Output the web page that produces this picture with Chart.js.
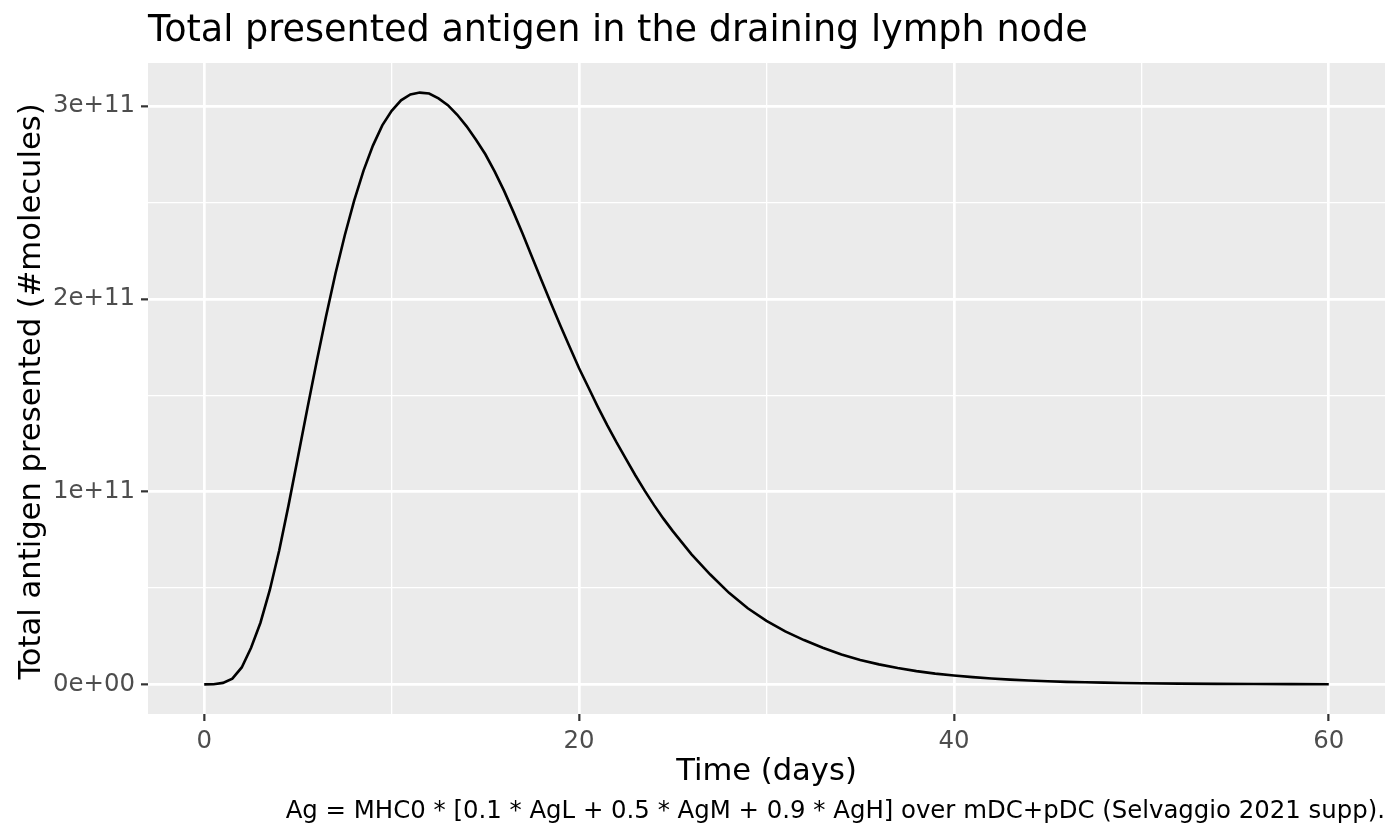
<!DOCTYPE html>
<html>
<head>
<meta charset="utf-8">
<script src="https://cdn.jsdelivr.net/npm/chart.js@4"></script>
<style>
  body { margin: 0; background: #fff; }
  #wrap { width: 1400px; height: 840px; }
</style>
</head>
<body>
<div id="wrap"><canvas id="agChart" width="1400" height="840"></canvas></div>
<script>
// time (days) and total presented antigen, in units of 1e11 molecules
const days = [
  0, 0.5, 1, 1.5, 2, 2.5, 3, 3.5, 4, 4.5, 5, 5.5, 6, 6.5, 7, 7.5, 8, 8.5, 9, 9.5,
  10, 10.5, 11, 11.5, 12, 12.5, 13, 13.5, 14, 14.5, 15, 15.5, 16, 16.5, 17, 17.5,
  18, 18.5, 19, 19.5, 20, 20.5, 21, 21.5, 22, 22.5, 23, 23.5, 24, 24.5, 25,
  26, 27, 28, 29, 30, 31, 32, 33, 34, 35, 36, 37, 38, 39, 40,
  41, 42, 43, 44, 45, 46, 47, 48, 49, 50, 52, 54, 56, 58, 60
];
const antigen = [
  0, 0.001, 0.008, 0.03, 0.088, 0.19, 0.32, 0.49, 0.695, 0.93, 1.18, 1.43, 1.675, 1.91, 2.13, 2.33, 2.51, 2.665, 2.795, 2.9,
  2.975, 3.03, 3.06, 3.07, 3.065, 3.04, 3.005, 2.955, 2.895, 2.825, 2.75, 2.66, 2.56, 2.45, 2.335, 2.215,
  2.095, 1.977, 1.862, 1.75, 1.64, 1.54, 1.44, 1.345, 1.255, 1.17, 1.085, 1.005, 0.93, 0.86, 0.795,
  0.675, 0.57, 0.475, 0.395, 0.33, 0.275, 0.23, 0.19, 0.155, 0.127, 0.104, 0.085, 0.069, 0.056, 0.046,
  0.038, 0.031, 0.025, 0.020, 0.016, 0.013, 0.011, 0.009, 0.007, 0.006, 0.004, 0.003, 0.002, 0.0015, 0.001
];
const UNIT = 1e11;

const xTicks = [0, 10, 20, 30, 40, 50, 60];
const xLabels = ['0', '', '20', '', '40', '', '60'];
const yTicks = [0, 0.5, 1, 1.5, 2, 2.5, 3];
const yLabels = ['0e+00', '', '1e+11', '', '2e+11', '', '3e+11'];

const titleText = 'Total presented antigen in the draining lymph node';
const xTitle = 'Time (days)';
const yTitle = 'Total antigen presented (#molecules)';
const captionText = 'Ag = MHC0 * [0.1 * AgL + 0.5 * AgM + 0.9 * AgH] over mDC+pDC (Selvaggio 2021 supp).';

const FONT = '"DejaVu Sans", Verdana, sans-serif';

// ggplot-like expansion of 5% on each side
const xMin = Math.min(...days), xMax = Math.max(...days);
const yMin = Math.min(...antigen), yMax = Math.max(...antigen);
const xPad = (xMax - xMin) * 0.05, yPad = (yMax - yMin) * 0.05;

const isMajor = (list, v) => list.indexOf(v) % 2 === 0;

const panelBg = {
  id: 'panelBg',
  beforeDraw(chart) {
    const { ctx, chartArea: a } = chart;
    ctx.save();
    ctx.fillStyle = '#EBEBEB';
    ctx.fillRect(a.left, a.top, a.right - a.left, a.bottom - a.top);
    ctx.restore();
  }
};

const texts = {
  id: 'texts',
  afterDraw(chart) {
    const { ctx, chartArea: a } = chart;
    ctx.save();
    ctx.fillStyle = '#000';
    ctx.textBaseline = 'alphabetic';

    ctx.font = '36.6px ' + FONT;
    ctx.textAlign = 'left';
    ctx.fillText(titleText, a.left, 41);

    ctx.font = '30.6px ' + FONT;
    ctx.textAlign = 'center';
    ctx.fillText(xTitle, (a.left + a.right) / 2, 780);

    ctx.save();
    ctx.translate(40, (a.top + a.bottom) / 2 + 3);
    ctx.rotate(-Math.PI / 2);
    ctx.fillText(yTitle, 0, 0);
    ctx.restore();

    ctx.font = '24.4px ' + FONT;
    ctx.textAlign = 'right';
    ctx.fillText(captionText, a.right, 818);
    ctx.restore();
  }
};

new Chart(document.getElementById('agChart'), {
  type: 'line',
  data: {
    datasets: [{
      data: days.map((d, i) => ({ x: d, y: antigen[i] * UNIT })),
      borderColor: '#000',
      borderWidth: 2.6,
      pointRadius: 0,
      tension: 0,
      fill: false
    }]
  },
  options: {
    responsive: false,
    animation: false,
    devicePixelRatio: 1,
    layout: { padding: { left: 0, right: 15, top: 63, bottom: 0 } },
    plugins: {
      legend: { display: false },
      tooltip: { enabled: false }
    },
    scales: {
      x: {
        type: 'linear',
        min: xMin - xPad,
        max: xMax + xPad,
        afterFit: s => { s.height = 126; },
        afterBuildTicks: s => { s.ticks = xTicks.map(v => ({ value: v })); },
        border: { display: false },
        grid: {
          color: '#FFFFFF',
          lineWidth: c => isMajor(xTicks, c.tick.value) ? 2.7 : 1.3,
          tickColor: c => isMajor(xTicks, c.tick.value) ? '#333333' : 'rgba(0,0,0,0)',
          tickWidth: 2.2,
          tickLength: 7
        },
        ticks: {
          autoSkip: false,
          maxRotation: 0,
          padding: 6,
          color: '#4D4D4D',
          font: { family: FONT, size: 24.4 },
          callback: v => xLabels[xTicks.indexOf(v)]
        }
      },
      y: {
        type: 'linear',
        min: (yMin - yPad) * UNIT,
        max: (yMax + yPad) * UNIT,
        afterFit: s => { s.width = 148; },
        afterBuildTicks: s => { s.ticks = yTicks.map(v => ({ value: v * UNIT })); },
        border: { display: false },
        grid: {
          color: '#FFFFFF',
          lineWidth: c => isMajor(yTicks, c.tick.value / UNIT) ? 2.7 : 1.3,
          tickColor: c => isMajor(yTicks, c.tick.value / UNIT) ? '#333333' : 'rgba(0,0,0,0)',
          tickWidth: 2.2,
          tickLength: 7
        },
        ticks: {
          autoSkip: false,
          padding: 6,
          color: '#4D4D4D',
          font: { family: FONT, size: 24.4 },
          callback: v => yLabels[yTicks.indexOf(v / UNIT)]
        }
      }
    }
  },
  plugins: [panelBg, texts]
});
</script>
</body>
</html>
